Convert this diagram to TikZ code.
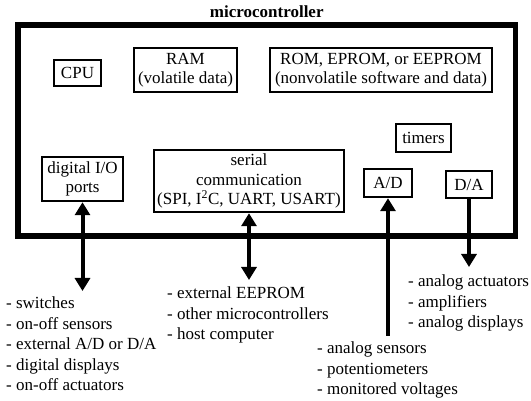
\documentclass[tikz,border=0pt]{standalone}
\usepackage{fontspec}
\setmainfont{Liberation Serif}
\usepackage{tikz}
\usetikzlibrary{arrows.meta, positioning, calc}

\begin{document}
\begin{tikzpicture}[
  x=1pt, y=-1pt,
  frame/.style={rectangle, draw, line width=5.5pt, minimum width=497.5pt, minimum height=211pt},
  title/.style={inner sep=0pt, font=\fontsize{17}{19.5}\selectfont\bfseries},
  unit/.style={rectangle, draw, line width=2.5pt, align=center, inner sep=0pt, font=\fontsize{17}{19.5}\selectfont},
  item/.style={align=left, inner sep=0pt, anchor=north west, font=\fontsize{17}{20.5}\selectfont},
  link/.style={line width=4pt, -{Triangle[length=13pt,width=15pt]}},
  both/.style={line width=4pt, {Triangle[length=13pt,width=15pt]}-{Triangle[length=13pt,width=15pt]}}
]
\useasboundingbox (0,0) rectangle (531,401);

% chip outline
\node[frame] (mcu) at (266.75,130.5) {};
\node[title, above=4pt of mcu.north] (name) {microcontroller};

% blocks inside
\node[unit, minimum width=47pt, minimum height=26pt] (cpu) at (77.5,73) {CPU};
\node[unit, minimum width=103pt, minimum height=44pt] (ram) at (185.5,70) {RAM\\(volatile data)};
\node[unit, minimum width=222pt, minimum height=44pt] (rom) at (381,70) {ROM, EPROM, or EEPROM\\(nonvolatile software and data)};
\node[unit, minimum width=55pt, minimum height=28pt] (tim) at (423.5,138) {timers};
\node[unit, minimum width=81pt, minimum height=44pt] (dio) at (82.5,179) {digital I/O\\ports};
\node[unit, minimum width=190pt, minimum height=62pt] (ser) at (249,181) {serial\\communication\\(SPI, I\textsuperscript{2}C, UART, USART)};
\node[unit, minimum width=48pt, minimum height=28pt] (ad) at (388,183) {A/D};
\node[unit, minimum width=46pt, minimum height=27pt] (da) at (469,184.5) {D/A};

% outside devices
\node[item] (diolist) at (6,297) {- switches\\- on-off sensors\\- external A/D or D/A\\- digital displays\\- on-off actuators};
\node[item] (serlist) at (167,287) {- external EEPROM\\- other microcontrollers\\- host computer};
\node[item] (adlist) at (317,342) {- analog sensors\\- potentiometers\\- monitored voltages};
\node[item] (dalist) at (408,275) {- analog actuators\\- amplifiers\\- analog displays};

\draw[both, shorten >=6pt] (dio.south) -- (dio.south |- diolist.north);
\draw[both, shorten >=7pt] (ser.south) -- (ser.south |- serlist.north);
\draw[link, shorten <=6pt] (ad.south |- adlist.north) -- (ad.south);
\draw[link, shorten >=8pt] (da.south) -- (da.south |- dalist.north);

\end{tikzpicture}
\end{document}
